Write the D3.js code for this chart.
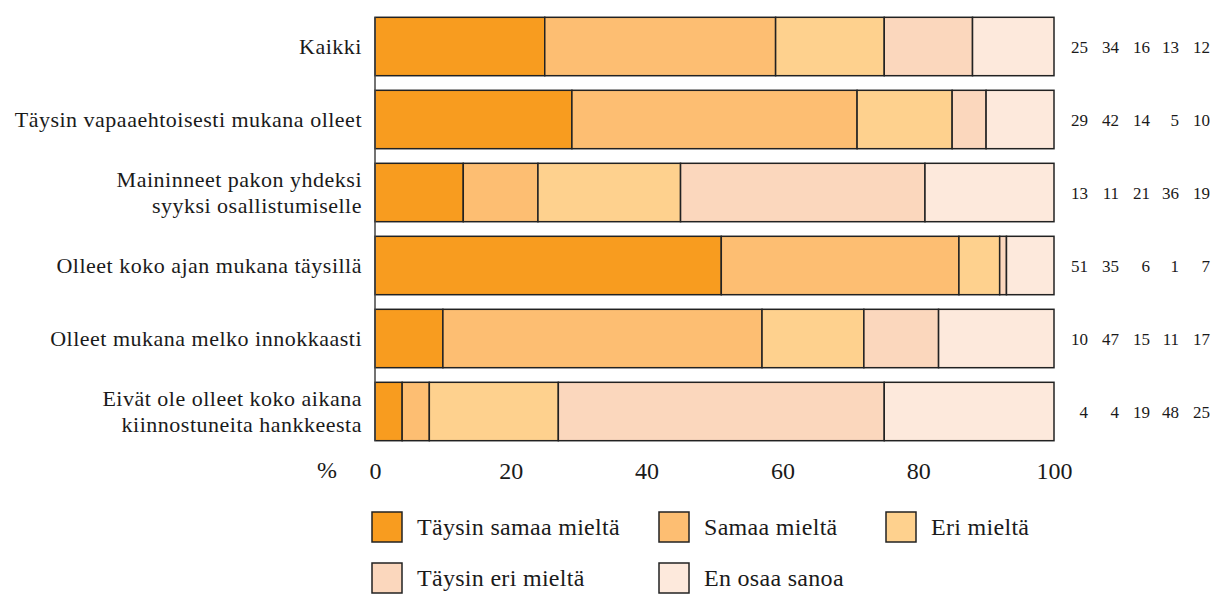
<!DOCTYPE html>
<html>
<head>
<meta charset="utf-8">
<script src="https://cdn.jsdelivr.net/npm/d3@7"></script>
<style>
  body { margin: 0; background: #fff; }
  svg text { font-family: "Liberation Serif", "Times New Roman", "DejaVu Serif", serif; fill: #1a1a1a; }
</style>
</head>
<body>
<svg id="chart" width="1213" height="595" font-family="Liberation Serif, serif"></svg>
<script>
// categories, top to bottom (\n = line break)
var categories = [
  "Kaikki",
  "Täysin vapaaehtoisesti mukana olleet",
  "Maininneet pakon yhdeksi\nsyyksi osallistumiselle",
  "Olleet koko ajan mukana täysillä",
  "Olleet mukana melko innokkaasti",
  "Eivät ole olleet koko aikana\nkiinnostuneita hankkeesta"
];
var seriesNames = ["Täysin samaa mieltä", "Samaa mieltä", "Eri mieltä", "Täysin eri mieltä", "En osaa sanoa"];
var seriesColors = ["#f89c1f", "#fdbe72", "#fed18e", "#fbd7bd", "#fde9dc"];

var taysinSamaa = [25, 29, 13, 51, 10, 4];
var samaa       = [34, 42, 11, 35, 47, 4];
var eri         = [16, 14, 21,  6, 15, 19];
var taysinEri   = [13,  5, 36,  1, 11, 48];
var enOsaa      = [12, 10, 19,  7, 17, 25];

var xTicks = [0, 20, 40, 60, 80, 100];

var serif = "'Liberation Serif', 'Times New Roman', 'DejaVu Serif', serif";

var rows = categories.map(function(c, i) {
  return { cat: c, vals: [taysinSamaa[i], samaa[i], eri[i], taysinEri[i], enOsaa[i]] };
});

var svg = d3.select("#chart");

var x = d3.scaleLinear().domain([0, 100]).range([375, 1054]);
var y = d3.scaleBand().domain(categories).range([10, 448]).paddingInner(0.2).paddingOuter(0.1);

// stacked segments
rows.forEach(function(r) {
  var start = 0;
  var g = svg.append("g");
  r.vals.forEach(function(v, j) {
    g.append("rect")
      .attr("x", x(start))
      .attr("y", y(r.cat))
      .attr("width", x(start + v) - x(start))
      .attr("height", y.bandwidth())
      .attr("fill", seriesColors[j])
      .attr("stroke", "#222")
      .attr("stroke-width", 1.5);
    start += v;
  });
});

// vertical baseline
svg.append("line")
  .attr("x1", x(0)).attr("x2", x(0))
  .attr("y1", y(categories[0])).attr("y2", y(categories[categories.length - 1]) + y.bandwidth())
  .attr("stroke", "#444").attr("stroke-width", 1.5);

// category labels
rows.forEach(function(r) {
  var lines = r.cat.split("\n");
  var cy = y(r.cat) + y.bandwidth() / 2;
  var t = svg.append("text")
    .attr("text-anchor", "end")
    .style("font-family", serif)
    .style("font-size", "22px")
    .style("letter-spacing", "0.5px");
  lines.forEach(function(l, k) {
    t.append("tspan")
      .attr("x", 362)
      .attr("y", cy + 7 + (k - (lines.length - 1) / 2) * 26)
      .text(l);
  });
});

// value columns on the right
var valueCols = [1088, 1119, 1150, 1179, 1210];
rows.forEach(function(r) {
  var cy = y(r.cat) + y.bandwidth() / 2;
  r.vals.forEach(function(v, j) {
    svg.append("text")
      .attr("x", valueCols[j])
      .attr("y", cy + 6)
      .attr("text-anchor", "end")
      .style("font-family", serif)
      .style("font-size", "17px")
      .text(v);
  });
});

// x axis labels
var axis = d3.axisBottom(x).tickValues(xTicks).tickSize(0).tickPadding(0);
var ax = svg.append("g").attr("transform", "translate(0,462)").call(axis);
ax.select(".domain").remove();
ax.selectAll("text")
  .style("font-family", serif)
  .style("font-size", "24px")
  .attr("fill", "#1a1a1a")
  .attr("dy", "0.7em");
svg.append("text")
  .attr("x", 327).attr("y", 478)
  .attr("text-anchor", "middle")
  .style("font-family", serif)
  .style("font-size", "24px")
  .text("%");

// legend
var legendPos = [[372, 512], [659, 512], [886, 512], [372, 563], [659, 563]];
seriesNames.forEach(function(n, i) {
  var p = legendPos[i];
  svg.append("rect")
    .attr("x", p[0]).attr("y", p[1])
    .attr("width", 30).attr("height", 30)
    .attr("fill", seriesColors[i])
    .attr("stroke", "#222").attr("stroke-width", 1.5);
  svg.append("text")
    .attr("x", p[0] + 45).attr("y", p[1] + 23)
    .style("font-family", serif)
    .style("font-size", "24px")
    .style("letter-spacing", "0.3px")
    .text(n);
});
</script>
</body>
</html>
